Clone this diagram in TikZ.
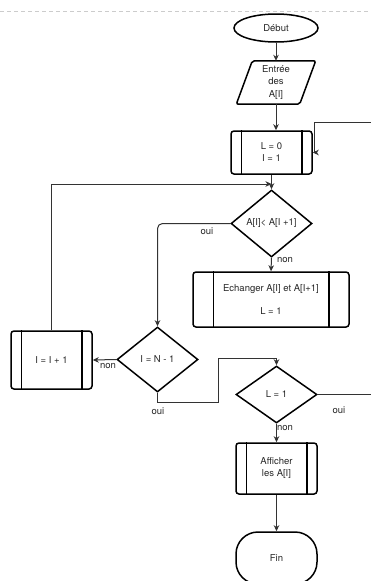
\documentclass[tikz,border=0pt]{standalone}
\usepackage{fontspec}
\setmainfont{TeX Gyre Heros}
\usetikzlibrary{shapes.geometric,arrows.meta,calc}
\begin{document}
\begin{tikzpicture}[x=1pt,y=-1pt,
  txt/.style={font=\fontsize{9.5}{12}\selectfont, text=black!85},
  shp/.style={txt, draw=black, line width=1.5pt, inner sep=0pt, align=center},
  proc/.style={shp, rectangle, rounded corners=3pt},
  dia/.style={shp, diamond, aspect=1.2},
  ell/.style={shp, ellipse},
  conn/.style={draw=black!80, line width=1pt, -{Stealth[length=6pt,width=5.5pt,inset=1.8pt]}},
  plain/.style={draw=black!80, line width=1pt},
  lab/.style={txt, inner sep=0pt}]
\useasboundingbox (0,0) rectangle (371,581);
\draw[black!20, line width=0.8pt, dash pattern=on 4pt off 3pt] (0,11) -- (371,11);

% nodes
\node[ell, minimum width=84, minimum height=28] (debut) at (276,28) {Début};
\node[txt, inner sep=0pt, minimum width=63, minimum height=43, align=center,
      font=\fontsize{9.5}{12.5}\selectfont] (entree) at (276,82.5) {Entrée\\des\\A[I]};
\draw[line width=1.5pt, rounded corners=2pt]
  ([xshift=-8]entree.south west) -- ([xshift=8]entree.north west) --
  ([xshift=8]entree.north east) -- ([xshift=-8]entree.south east) -- cycle;
\node[proc, minimum width=81, minimum height=43] (init) at (271.5,152.5) {L = 0\\I = 1};
\node[dia, minimum width=81, minimum height=67] (d1) at (271.5,223.5) {A[I]< A[I +1]};
\node[proc, minimum width=156, minimum height=55] (ech) at (271,299.5) {Echanger A[I] et A[I+1]\\[11pt]L = 1};
\node[dia, minimum width=81, minimum height=65] (d2) at (157.5,359.5) {I = N - 1};
\node[proc, minimum width=81, minimum height=58] (inc) at (51.5,360) {I = I + 1};
\node[dia, minimum width=81, minimum height=57] (d3) at (276.5,394.5) {L = 1};
\node[proc, minimum width=81, minimum height=51] (aff) at (276.5,468.5) {Afficher\\les A[I]};
\node[shp, rectangle, rounded corners=22pt, minimum width=81, minimum height=52] (fin) at (276.5,558) {Fin};

% inner lines of process boxes
\foreach \n/\d in {init/11, ech/21, inc/11, aff/11}{
  \draw[line width=1.5pt] ([xshift=\d]\n.north west) -- ([xshift=\d]\n.south west);
  \draw[line width=1.5pt] ([xshift=-\d]\n.north east) -- ([xshift=-\d]\n.south east);
}

% coordinates
\coordinate (j1) at (271.5,184);
\coordinate (k1) at (218,402);
\coordinate (k2) at (218,358);
\coordinate (r1) at (371,394.5);
\coordinate (r2) at (371,122);

% connectors
\draw[conn] (debut.south) -- (entree.north);
\draw[conn] (entree.south) -- (entree.south |- init.north);
\draw[conn] (init.south) -- (d1.north);
\draw[conn] (inc.north) |- (j1);
\draw[conn, rounded corners=5pt] (d1.west) -| (d2.north);
\draw[conn] (d1.south) -- (ech.north);
\draw[conn] (d2.west) -- (inc.east);
\draw[conn] (d2.south) |- (k1) -- (k2) -| (d3.north);
\draw[plain] (d3.east) -- (r1);
\draw[conn] (r2) -| ([xshift=1.5]init.east) -- (init.east);
\draw[conn] (d3.south) -- (aff.north);
\draw[conn] (aff.south) -- (fin.north);

% labels
\node[lab] (l1) at (207,231) {oui};
\node[lab] (l2) at (285,260) {non};
\node[lab] (l3) at (108,366) {non};
\node[lab] (l4) at (158,411) {oui};
\node[lab] (l5) at (339,410) {oui};
\node[lab] (l6) at (285,428) {non};
\end{tikzpicture}
\end{document}
